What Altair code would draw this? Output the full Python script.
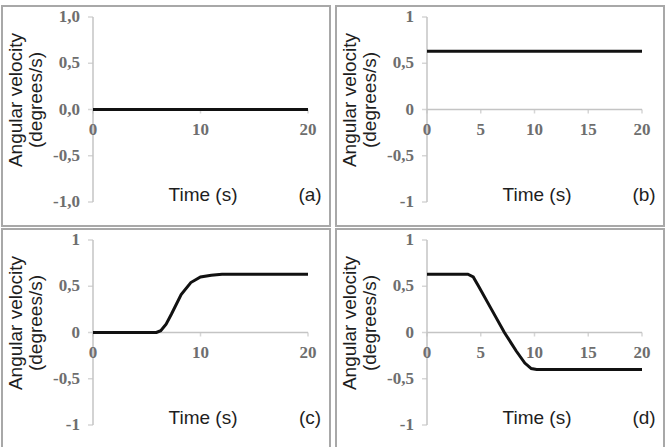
import altair as alt
import pandas as pd

# ---- data ----
time_a = [0, 20]
vel_a = [0.0, 0.0]

time_b = [0, 20]
vel_b = [0.63, 0.63]

time_c = [0, 5.9, 6.3, 6.8, 7.3, 8.2, 9.1, 10.0, 11.0, 12.0, 20]
vel_c = [0.0, 0.0, 0.02, 0.09, 0.2, 0.41, 0.54, 0.6, 0.62, 0.63, 0.63]

time_d = [0, 3.8, 4.3, 4.8, 6.0, 7.2, 8.3, 9.1, 9.7, 10.2, 20]
vel_d = [0.63, 0.63, 0.6, 0.5, 0.25, 0.0, -0.2, -0.33, -0.39, -0.4, -0.4]

x_ticks_ac = [0, 10, 20]
x_ticks_bd = [0, 5, 10, 15, 20]
y_ticks = [1, 0.5, 0, -0.5, -1]
y_labels_a = ["1,0", "0,5", "0,0", "-0,5", "-1,0"]
y_labels_other = ["1", "0,5", "0", "-0,5", "-1"]
letters = ["(a)", "(b)", "(c)", "(d)"]
x_title = "Time (s)"
y_title_1 = "Angular velocity"
y_title_2 = "(degrees/s)"

# ---- layout ----
W, H = 328, 220
X0_PX, X20_PX = 91, 306      # pixel of t=0 and t=20 inside a panel
Y1_PX, YM1_PX = 11, 196      # pixel of v=1 and v=-1 inside a panel
px_per_x = (X20_PX - X0_PX) / 20
px_per_y = (YM1_PX - Y1_PX) / 2
x_dom = [0 - X0_PX / px_per_x, 20 + (W - X20_PX) / px_per_x]
y_dom = [-1 - (H - YM1_PX) / px_per_y, 1 + Y1_PX / px_per_y]

xs = alt.Scale(domain=x_dom, nice=False, zero=False)
ys = alt.Scale(domain=y_dom, nice=False, zero=False)

AXIS_COL = "#c4c4c4"
LABEL_COL = "#6e6e6e"
SERIF = "'Liberation Serif', 'Times New Roman', 'DejaVu Serif', serif"
SANS = "Liberation Sans"
TITLE_COL = "#1e1e1e"


def X(f):
    return alt.X(f, type="quantitative", scale=xs, axis=None)


def Y(f):
    return alt.Y(f, type="quantitative", scale=ys, axis=None)


def panel(times, vels, xt, ylabels, letter):
    yaxis_df = pd.DataFrame({"x": [0], "y": [-1], "y2": [1]})
    xaxis_df = pd.DataFrame({"x": [0], "x2": [20], "y": [0]})
    ytick_df = pd.DataFrame({"x": [0] * len(y_ticks), "y": y_ticks, "lab": ylabels})
    xtick_df = pd.DataFrame({"x": xt, "y": [0] * len(xt), "lab": [str(v) for v in xt]})
    line_df = pd.DataFrame({"t": times, "v": vels})
    one = pd.DataFrame({"k": [0]})

    yaxis = alt.Chart(yaxis_df).mark_rule(color=AXIS_COL, strokeWidth=1.5).encode(
        x=X("x"), y=Y("y"), y2="y2")
    xaxis = alt.Chart(xaxis_df).mark_rule(color=AXIS_COL, strokeWidth=1.5).encode(
        x=X("x"), x2="x2", y=Y("y"))
    yticks = alt.Chart(ytick_df).mark_tick(
        color=AXIS_COL, orient="horizontal", size=5, thickness=1.5, xOffset=-2.5
    ).encode(x=X("x"), y=Y("y"))
    ylabs = alt.Chart(ytick_df).mark_text(
        align="right", baseline="middle", dx=-13, font=SERIF, fontSize=17,
        fontWeight="bold", color=LABEL_COL
    ).encode(x=X("x"), y=Y("y"), text="lab:N")
    xticks = alt.Chart(xtick_df).mark_tick(
        color=AXIS_COL, orient="vertical", size=4, thickness=1.5, yOffset=2
    ).encode(x=X("x"), y=Y("y"))
    xlabs = alt.Chart(xtick_df).mark_text(
        align="center", baseline="middle", dy=20, font=SERIF, fontSize=17,
        fontWeight="bold", color=LABEL_COL
    ).encode(x=X("x"), y=Y("y"), text="lab:N")
    line = alt.Chart(line_df).mark_line(color="#111111", strokeWidth=3).encode(
        x=X("t"), y=Y("v"))

    t_x = alt.Chart(one).mark_text(
        font=SANS, fontSize=19, color=TITLE_COL, align="center", baseline="middle"
    ).encode(x=alt.value(201), y=alt.value(189), text=alt.value(x_title))
    t_letter = alt.Chart(one).mark_text(
        font=SANS, fontSize=19, color=TITLE_COL, align="center", baseline="middle"
    ).encode(x=alt.value(308), y=alt.value(189), text=alt.value(letter))
    t_y1 = alt.Chart(one).mark_text(
        font=SANS, fontSize=19, color=TITLE_COL, align="center", baseline="middle",
        angle=270
    ).encode(x=alt.value(14), y=alt.value(94), text=alt.value(y_title_1))
    t_y2 = alt.Chart(one).mark_text(
        font=SANS, fontSize=19, color=TITLE_COL, align="center", baseline="middle",
        angle=270
    ).encode(x=alt.value(34), y=alt.value(94), text=alt.value(y_title_2))

    return alt.layer(
        yaxis, xaxis, yticks, xticks, ylabs, xlabs, line, t_x, t_letter, t_y1, t_y2
    ).properties(width=W, height=H)


pa = panel(time_a, vel_a, x_ticks_ac, y_labels_a, letters[0])
pb = panel(time_b, vel_b, x_ticks_bd, y_labels_other, letters[1])
pc = panel(time_c, vel_c, x_ticks_ac, y_labels_other, letters[2])
pd_ = panel(time_d, vel_d, x_ticks_bd, y_labels_other, letters[3])

chart = alt.vconcat(
    alt.hconcat(pa, pb, spacing=4),
    alt.hconcat(pc, pd_, spacing=4),
    spacing=1,
).properties(
    padding={"left": 1, "top": 5, "right": 0, "bottom": 0},
    background="white",
).configure_view(
    stroke="#a8a8a8", strokeWidth=2
)

chart.save("out.html", embed_options={"renderer": "svg", "actions": False})
